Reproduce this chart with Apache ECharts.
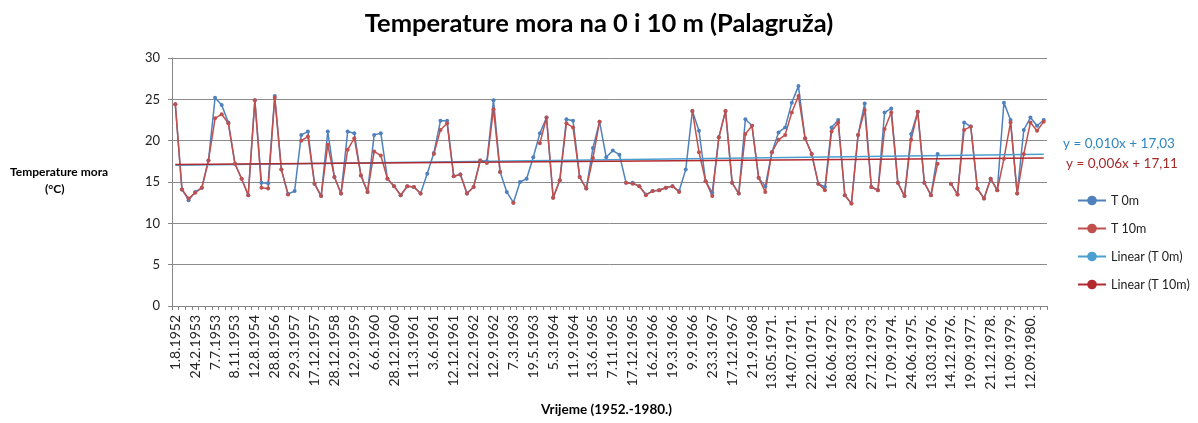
<!DOCTYPE html>
<html>
<head>
<meta charset="utf-8">
<script src="https://cdn.jsdelivr.net/npm/echarts@6/dist/echarts.min.js"></script>
<style>
html,body{margin:0;padding:0;background:#fff;}
#chart{width:1198px;height:423px;}
</style>
</head>
<body>
<div id="chart"></div>
<script>
// Tick labels shown on the axis (every third category is labelled)
const tickLabels = ["1.8.1952","24.2.1953","7.7.1953","8.11.1953","12.8.1954","28.8.1956","29.3.1957","17.12.1957","28.12.1958","12.9.1959","6.6.1960","28.12.1960","11.3.1961","3.6.1961","12.12.1961","12.2.1962","12.9.1962","7.3.1963","19.5.1963","5.3.1964","11.9.1964","13.6.1965","7.11.1965","17.12.1965","16.2.1966","19.3.1966","9.9.1966","23.3.1967","17.12.1967","21.9.1968","13.05.1971.","14.07.1971.","22.10.1971.","16.06.1972.","28.03.1973.","27.12.1973.","17.09.1974.","24.06.1975.","13.03.1976.","14.12.1976.","19.09.1977.","21.12.1978.","11.09.1979.","12.09.1980."];

// T 0m (surface temperature, °C)
const t0m = [24.4,14.1,12.8,13.8,14.3,17.6,25.2,24.3,22.2,17.2,
15.4,13.4,24.9,14.9,14.85,25.4,16.5,13.55,13.9,20.7,
21.1,14.8,13.3,21.1,15.6,13.6,21.1,20.9,15.8,13.8,
20.7,20.9,15.4,14.5,13.4,14.5,14.4,13.6,16.0,18.5,
22.4,22.4,15.7,15.9,13.6,14.4,17.6,17.5,24.9,16.2,
13.8,12.5,15.0,15.4,18.0,20.9,22.8,13.1,15.2,22.6,
22.4,15.6,14.2,19.1,22.3,18.0,18.8,18.3,14.9,14.9,
14.5,13.5,13.9,14.0,14.3,14.5,13.9,16.5,23.6,21.2,
15.1,13.7,20.4,23.6,14.9,13.6,22.6,21.8,15.5,14.5,
18.6,21.0,21.6,24.6,26.6,20.3,18.4,14.8,14.4,21.6,
22.5,13.4,12.4,20.7,24.5,14.4,14.0,23.4,23.9,14.9,
13.3,20.8,23.5,14.9,13.4,18.4,null,14.8,13.5,22.2,
21.7,14.2,13.0,15.4,14.0,24.6,22.5,13.6,21.3,22.8,
21.8,22.5];

// T 10m (temperature at 10 m depth, °C)
const t10m = [24.4,14.1,13.0,13.7,14.3,17.6,22.7,23.2,22.1,17.2,
15.4,13.4,24.9,14.3,14.2,25.2,16.5,13.5,null,20.0,
20.5,14.8,13.3,19.5,15.6,13.6,18.9,20.3,15.8,13.8,
18.7,18.2,15.4,14.5,13.4,14.5,14.4,13.6,null,18.4,
21.3,22.1,15.7,15.9,13.6,14.4,17.6,17.3,23.8,16.2,
null,12.5,null,null,null,19.7,22.8,13.1,15.2,22.1,
21.6,15.6,14.2,17.9,22.3,null,null,null,14.9,14.8,
14.5,13.4,13.9,14.0,14.3,14.5,13.8,null,23.6,18.6,
15.1,13.3,20.4,23.6,14.9,13.6,20.8,21.8,15.5,13.8,
18.6,20.1,20.7,23.4,25.4,20.3,18.4,14.8,14.0,21.1,
22.2,13.4,12.4,20.7,23.7,14.4,14.0,21.4,23.4,14.9,
13.3,20.1,23.5,14.9,13.4,17.2,null,14.8,13.5,21.3,
21.7,14.2,13.0,15.4,14.0,17.8,22.2,13.6,18.4,22.2,
21.2,22.3];

// Linear trend coefficients shown on the chart: [slope, intercept]
const trend0m = [0.010, 17.03];
const trend10m = [0.006, 17.11];
const yTicks = [0, 30, 5]; // min, max, interval

// Build full category list: labelled category followed by two unlabelled ones
const categories = [];
tickLabels.forEach((l) => {
  categories.push(l);
  if (categories.length < t0m.length) categories.push('');
  if (categories.length < t0m.length) categories.push('');
});
while (categories.length < t0m.length) categories.push('');

const n = t0m.length;
function trendLine(c) {
  return [[0, c[1] + c[0] * 1], [n - 1, c[1] + c[0] * n]];
}

const FONT = 'Lato, "Open Sans", sans-serif';
const chart = echarts.init(document.getElementById('chart'), null, {renderer: 'canvas'});
chart.setOption({
  animation: false,
  backgroundColor: '#fff',
  textStyle: {fontFamily: FONT},
  title: {
    text: 'Temperature mora na 0 i 10 m (Palagruža)',
    left: 'center',
    top: 6,
    textStyle: {fontFamily: FONT, fontSize: 25.5, fontWeight: 'bold', color: '#000'}
  },
  grid: {left: 172, right: 151, top: 58, bottom: 117, containLabel: false},
  xAxis: {
    type: 'category',
    data: categories,
    boundaryGap: true,
    axisLine: {lineStyle: {color: '#868686', width: 1}},
    axisTick: {show: true, interval: 0, length: 4, lineStyle: {color: '#868686'}},
    axisLabel: {interval: 2, rotate: 90, margin: 9, fontSize: 14, color: '#222', fontFamily: FONT},
    splitLine: {show: false}
  },
  yAxis: {
    type: 'value',
    min: yTicks[0], max: yTicks[1], interval: yTicks[2],
    axisLine: {show: true, lineStyle: {color: '#868686', width: 1}},
    axisTick: {show: true, length: 4, lineStyle: {color: '#868686'}},
    axisLabel: {fontSize: 13, color: '#222', margin: 12, fontFamily: FONT},
    splitLine: {lineStyle: {color: '#8c8c8c', width: 1}}
  },
  legend: {
    orient: 'vertical',
    left: 1072,
    top: 189,
    itemWidth: 28,
    itemHeight: 12,
    itemGap: 15,
    textStyle: {fontSize: 12.5, color: '#222', fontFamily: FONT},
    data: ['T 0m', 'T 10m', 'Linear (T 0m)', 'Linear (T 10m)']
  },
  graphic: [
    {type: 'text', left: 10, top: 166, style: {text: 'Temperature mora', font: 'bold 12px ' + FONT, fill: '#000'}},
    {type: 'text', left: 45, top: 183, style: {text: '(°C)', font: 'bold 12px ' + FONT, fill: '#000'}},
    {type: 'text', left: 541, top: 403, style: {text: 'Vrijeme (1952.-1980.)', font: 'bold 13.5px ' + FONT, fill: '#000'}},
    {type: 'text', left: 1063, top: 137, style: {text: 'y = 0,010x + 17,03', font: '13.5px ' + FONT, fill: '#2E86C1'}},
    {type: 'text', left: 1066, top: 157, style: {text: 'y = 0,006x + 17,11', font: '13.5px ' + FONT, fill: '#A52A2A'}}
  ],
  series: [
    {
      name: 'T 0m', type: 'line', data: t0m, connectNulls: false,
      symbol: 'circle', symbolSize: 4, showAllSymbol: true,
      itemStyle: {color: '#4F81BD'}, lineStyle: {color: '#4F81BD', width: 1.5}
    },
    {
      name: 'T 10m', type: 'line', data: t10m, connectNulls: false,
      symbol: 'circle', symbolSize: 4, showAllSymbol: true,
      itemStyle: {color: '#C0504D'}, lineStyle: {color: '#C0504D', width: 1.5}
    },
    {
      name: 'Linear (T 0m)', type: 'line', data: trendLine(trend0m),
      symbol: 'none', lineStyle: {color: '#4A9FD0', width: 1.5}, itemStyle: {color: '#4A9FD0'}
    },
    {
      name: 'Linear (T 10m)', type: 'line', data: trendLine(trend10m),
      symbol: 'none', lineStyle: {color: '#B22A2E', width: 1.5}, itemStyle: {color: '#B22A2E'}
    }
  ]
});
</script>
</body>
</html>
